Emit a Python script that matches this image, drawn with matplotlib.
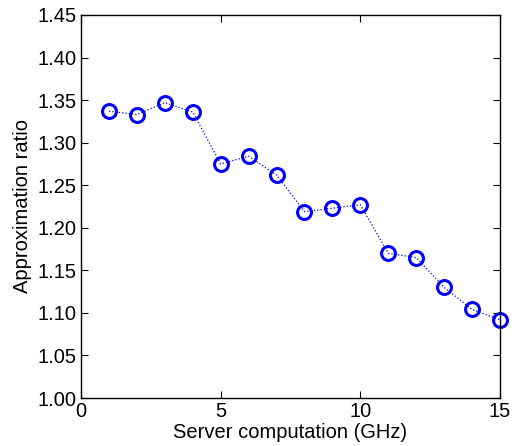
import numpy as np
import matplotlib.pyplot as plt

plt.rcParams['font.family'] = ['Liberation Sans', 'DejaVu Sans']

# approximation ratio vs. server computation
server_ghz = [1, 2, 3, 4, 5, 6, 7, 8, 9, 10, 11, 12, 13, 14, 15]
approx_ratio = [1.337, 1.333, 1.347, 1.336, 1.275, 1.284, 1.262, 1.219,
                1.223, 1.227, 1.170, 1.165, 1.130, 1.104, 1.092]

x_ticks = [0, 5, 10, 15]
y_ticks = np.arange(1.00, 1.451, 0.05)

fig = plt.figure(figsize=(5.14, 4.46), dpi=100)
ax = fig.add_axes([0.1576, 0.1076, 0.8152, 0.8588])
ax.plot(server_ghz, approx_ratio, color='blue', ls=':', lw=0.9,
        marker='o', ms=10, mfc='none', mec='blue', mew=2.2, clip_on=False)

ax.set_xlim(0, 15)
ax.set_ylim(1.00, 1.45)
ax.set_xticks(x_ticks)
ax.set_yticks(y_ticks)
ax.set_yticklabels([f'{v:.2f}' for v in y_ticks])
ax.tick_params(direction='in', top=True, right=True, labelsize=14.5, length=5, pad=3)
ax.set_xlabel('Server computation (GHz)', fontsize=14.5, labelpad=1)
ax.set_ylabel('Approximation ratio', fontsize=14.5, labelpad=4)
for s in ax.spines.values():
    s.set_linewidth(1.0)

fig.savefig('out.png', dpi=100)
